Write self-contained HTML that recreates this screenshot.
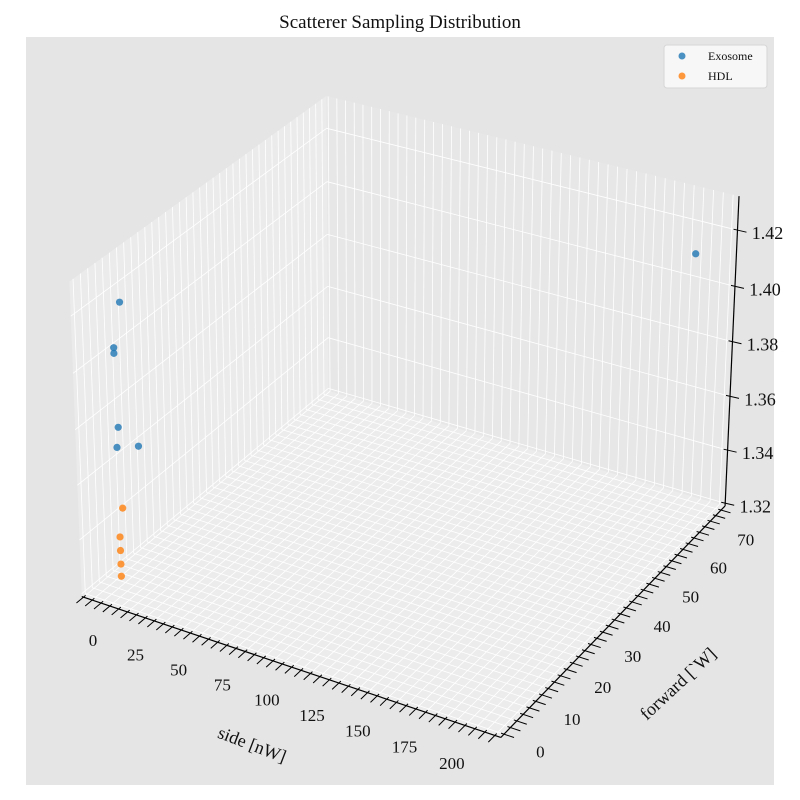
<!DOCTYPE html>
<html><head><meta charset="utf-8"><style>
html,body{margin:0;padding:0;background:#fff;}
svg{display:block;font-family:"Liberation Serif",serif;}
</style></head><body>
<svg id="chart" width="800" height="800" viewBox="0 0 800 800">
<rect x="26" y="37" width="748" height="748" fill="#e5e5e5"/>
<text x="400" y="28" font-size="19" text-anchor="middle" fill="#111">Scatterer Sampling Distribution</text>
<g id="panes"></g><g id="grid"></g><g id="axes"></g><g id="marks"></g>
<g>
<rect x="664" y="45" width="103" height="43" rx="3" fill="#f7f7f7" stroke="#d6d6d6"/>
<circle cx="682" cy="56" r="3.5" fill="#1f77b4" fill-opacity="0.8"/>
<text x="708" y="60" font-size="12" fill="#111">Exosome</text>
<circle cx="682" cy="76" r="3.5" fill="#ff7f0e" fill-opacity="0.8"/>
<text x="708" y="80" font-size="12" fill="#111">HDL</text>
</g>
<text transform="translate(250,750) rotate(21)" font-size="18" text-anchor="middle" fill="#111">side [nW]</text>
<text transform="translate(682,688) rotate(-43)" font-size="18" text-anchor="middle" fill="#111">forward [`W]</text>
</svg>
<script>
const exoX = [4, 4, 4, 5, 6, 14, 197];
const exoY = [3, 1, 1, 1, 0, 2, 70];
const exoZ = [1.422, 1.408, 1.406, 1.380, 1.374, 1.374, 1.412];
const hdlX = [6, 6, 6, 6, 6];
const hdlY = [1, 0, 0, 0, 0];
const hdlZ = [1.351, 1.3415, 1.3365, 1.3315, 1.327];
const xTicks = [0, 25, 50, 75, 100, 125, 150, 175, 200];
const yTicks = [0, 10, 20, 30, 40, 50, 60, 70];
const zTicks = [1.32, 1.34, 1.36, 1.38, 1.40, 1.42];

const XMIN=-11, XMAX=213, YMIN=-3, YMAX=73.5, ZMIN=1.319, ZMAX=1.432;
const corr = [
 [0,0,0,83,598],[1,0,0,500,738],[1,1,0,725,506],[0,1,0,328,389],
 [0,0,1,69,282],[0,1,1,326,96],[1,1,1,740,198],[1,0,1,506,403]
];
function solve(A,b){const n=b.length;for(let i=0;i<n;i++){let p=i;for(let r=i+1;r<n;r++)if(Math.abs(A[r][i])>Math.abs(A[p][i]))p=r;[A[i],A[p]]=[A[p],A[i]];[b[i],b[p]]=[b[p],b[i]];for(let r=i+1;r<n;r++){const f=A[r][i]/A[i][i];for(let c=i;c<n;c++)A[r][c]-=f*A[i][c];b[r]-=f*b[i];}}const x=new Array(n).fill(0);for(let i=n-1;i>=0;i--){let s=b[i];for(let c=i+1;c<n;c++)s-=A[i][c]*x[c];x[i]=s/A[i][i];}return x;}
const rows=[],rhs=[];
corr.forEach(([X,Y,Z,u,v])=>{rows.push([X,Y,Z,1,0,0,0,0,-u*X,-u*Y,-u*Z]);rhs.push(u);rows.push([0,0,0,0,X,Y,Z,1,-v*X,-v*Y,-v*Z]);rhs.push(v);});
const N=[...Array(11)].map(()=>new Array(11).fill(0)),nb=new Array(11).fill(0);
rows.forEach((r,k)=>{for(let i=0;i<11;i++){nb[i]+=r[i]*rhs[k];for(let j=0;j<11;j++)N[i][j]+=r[i]*r[j];}});
const p=solve(N,nb);
function P(x,y,z){const X=(x-XMIN)/(XMAX-XMIN),Y=(y-YMIN)/(YMAX-YMIN),Z=(z-ZMIN)/(ZMAX-ZMIN);const w=p[8]*X+p[9]*Y+p[10]*Z+1;return [(p[0]*X+p[1]*Y+p[2]*Z+p[3])/w,(p[4]*X+p[5]*Y+p[6]*Z+p[7])/w];}
const NS='http://www.w3.org/2000/svg';
function mk(parent,tag,attrs){const e=document.createElementNS(NS,tag);for(const k in attrs)e.setAttribute(k,attrs[k]);document.getElementById(parent).appendChild(e);return e;}
function poly(pts){return pts.map(q=>q[0].toFixed(1)+','+q[1].toFixed(1)).join(' ');}
function line(parent,a,b,stroke,w){return mk(parent,'line',{x1:a[0],y1:a[1],x2:b[0],y2:b[1],stroke:stroke,'stroke-width':w});}
let e;
e=mk('panes','polygon',{points:poly([P(XMIN,YMIN,ZMIN),P(XMIN,YMAX,ZMIN),P(XMIN,YMAX,ZMAX),P(XMIN,YMIN,ZMAX)]),fill:'#ebebeb'});


e=mk('panes','polygon',{points:poly([P(XMIN,YMAX,ZMIN),P(XMAX,YMAX,ZMIN),P(XMAX,YMAX,ZMAX),P(XMIN,YMAX,ZMAX)]),fill:'#e7e7e7'});


e=mk('panes','polygon',{points:poly([P(XMIN,YMIN,ZMIN),P(XMAX,YMIN,ZMIN),P(XMAX,YMAX,ZMIN),P(XMIN,YMAX,ZMIN)]),fill:'#ececec'});


const G='#ffffff';
for(let x=-10;x<=210;x+=5){
 e=line('grid',P(x,YMIN,ZMIN),P(x,YMAX,ZMIN),G,0.8);
 
 
 e=line('grid',P(x,YMAX,ZMIN),P(x,YMAX,ZMAX),G,0.8);
 
 
}
for(let y=-2;y<=72;y+=2){
 e=line('grid',P(XMIN,y,ZMIN),P(XMAX,y,ZMIN),G,0.8);
 
 
 e=line('grid',P(XMIN,y,ZMIN),P(XMIN,y,ZMAX),G,0.8);
 
 
}
zTicks.forEach(z=>{
 e=line('grid',P(XMIN,YMIN,z),P(XMIN,YMAX,z),G,0.8);
 
 
 e=line('grid',P(XMIN,YMAX,z),P(XMAX,YMAX,z),G,0.8);
 
 
});
e=line('axes',P(XMIN,YMIN,ZMIN),P(XMAX,YMIN,ZMIN),'#000',1.2);


e=line('axes',P(XMAX,YMIN,ZMIN),P(XMAX,YMAX,ZMIN),'#000',1.2);


e=line('axes',P(XMAX,YMAX,ZMIN),P(XMAX,YMAX,ZMAX),'#000',1.2);


for(let x=-10;x<=210;x+=5){
 e=line('axes',P(x,YMIN+0.6,ZMIN),P(x,YMIN-2,ZMIN),'#000',1);
 
 
}
for(let y=-2;y<=72;y+=2){
 e=line('axes',P(XMAX-1.5,y,ZMIN),P(XMAX+5,y,ZMIN),'#000',1);
 
 
}
xTicks.forEach(x=>{const q=P(x,YMIN,ZMIN);const t=x/200;
 e=mk('axes','text',{x:q[0]-8-15*t,y:q[1]+43-3*t,'font-size':17,'text-anchor':'middle',fill:'#111'});e.textContent=String(x);
 
 
});
yTicks.forEach(y=>{const q=P(XMAX,y,ZMIN);
 e=mk('axes','text',{x:q[0]+30,y:q[1]+30,'font-size':17,'text-anchor':'middle',fill:'#111'});e.textContent=String(y);
 
 
});
zTicks.forEach(z=>{const a=P(XMAX,YMAX,z);
 e=line('axes',[a[0]-4,a[1]-1],[a[0]+9,a[1]+2],'#000',1);
 
 
 e=mk('axes','text',{x:a[0]+30,y:a[1]+9,'font-size':18,'text-anchor':'middle',fill:'#111'});e.textContent=z.toFixed(2);
 
 
});
exoX.forEach((x,i)=>{const q=P(x,exoY[i],exoZ[i]);
 e=mk('marks','circle',{cx:q[0],cy:q[1],r:3.6,fill:'#1f77b4','fill-opacity':0.8});
 
 
});
hdlX.forEach((x,i)=>{const q=P(x,hdlY[i],hdlZ[i]);
 e=mk('marks','circle',{cx:q[0],cy:q[1],r:3.6,fill:'#ff7f0e','fill-opacity':0.8});
 
 
});
</script>
</body></html>
